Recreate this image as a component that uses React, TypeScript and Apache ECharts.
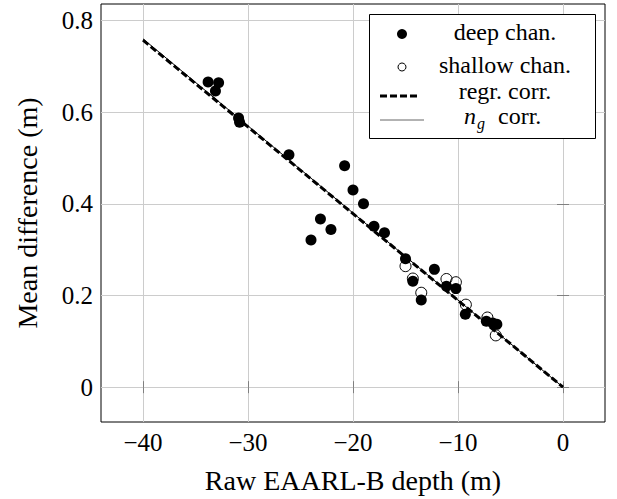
import React, { useEffect, useRef } from "react";
import * as echarts from "echarts";

// ---- data ----
const deepX = [-33.8, -32.8, -33.1, -30.9, -30.8, -26.1, -20.8, -20.0, -19.0, -18.0, -17.0, -23.1, -22.1, -24.0, -15.0, -12.25, -14.3, -13.5, -11.1, -10.2, -9.3, -7.3, -6.3, -6.7];
const deepY = [0.666, 0.664, 0.646, 0.587, 0.578, 0.507, 0.483, 0.430, 0.400, 0.351, 0.337, 0.367, 0.344, 0.321, 0.280, 0.257, 0.231, 0.190, 0.220, 0.215, 0.159, 0.144, 0.137, 0.140];
const shallowX = [-15.0, -14.3, -13.5, -11.1, -10.2, -9.25, -7.2, -6.4];
const shallowY = [0.264, 0.237, 0.206, 0.236, 0.229, 0.180, 0.152, 0.113];
const regrX = [-40, 0];
const regrY = [0.757, 0];
const ngX = [-40, 0];
const ngY = [0.760, 0];
const xTicks = [-40, -30, -20, -10, 0];
const yTicks = [0, 0.2, 0.4, 0.6, 0.8];
const legendLabels = ["deep chan.", "shallow chan.", "regr. corr.", "corr."];

const FONT = "Liberation Serif, serif";

const zip = (xs: number[], ys: number[]) => xs.map((x, i) => [x, ys[i]]);
const fmtX = (v: number) => (v < 0 ? "\u2212" + Math.abs(v) : String(v));
const fmtY = (v: number) => String(Math.round(v * 10) / 10);

export default function App() {
  const ref = useRef<HTMLDivElement>(null);
  useEffect(() => {
    if (!ref.current) return;
    const chart = echarts.init(ref.current, null, { renderer: "svg" });
    const tickStyle = { color: "#808080", width: 1 };
    const gridStyle = { color: "#cccccc", width: 1 };
    const txt = (text: string, x: number, y: number, extra: any = {}) => ({
      type: "text",
      x,
      y,
      z: 100,
      style: {
        text,
        fill: "#000",
        fontFamily: FONT,
        fontSize: 24,
        lineHeight: 22,
        align: "center",
        verticalAlign: "middle",
        ...extra,
      },
    });
    chart.setOption({
      animation: false,
      textStyle: { fontFamily: FONT },
      grid: {
        left: 101,
        top: 4,
        width: 504,
        height: 419,
        show: true,
        borderColor: "#000",
        borderWidth: 1,
        backgroundColor: "transparent",
      },
      xAxis: [
        {
          type: "value",
          min: -44,
          max: 4,
          position: "bottom",
          axisLine: { show: false },
          axisTick: { show: true, inside: true, length: 6, customValues: xTicks, lineStyle: tickStyle },
          axisLabel: { customValues: xTicks, formatter: fmtX, fontFamily: FONT, fontSize: 25, color: "#000", margin: 8 },
          splitLine: { show: true, lineStyle: gridStyle },
          name: "Raw EAARL-B depth (m)",
          nameLocation: "middle",
          nameGap: 44,
          nameTextStyle: { fontFamily: FONT, fontSize: 28, color: "#000" },
        },
        {
          type: "value",
          min: -44,
          max: 4,
          position: "top",
          axisLine: { show: false },
          axisTick: { show: true, inside: true, length: 6, customValues: xTicks, lineStyle: tickStyle },
          axisLabel: { show: false },
          splitLine: { show: false },
        },
      ],
      yAxis: [
        {
          type: "value",
          min: -0.076,
          max: 0.836,
          position: "left",
          axisLine: { show: false },
          axisTick: { show: true, inside: true, length: 6, customValues: yTicks, lineStyle: tickStyle },
          axisLabel: { customValues: yTicks, formatter: fmtY, fontFamily: FONT, fontSize: 25, color: "#000", margin: 8 },
          splitLine: { show: true, lineStyle: gridStyle },
          name: "Mean difference (m)",
          nameLocation: "middle",
          nameGap: 60,
          nameTextStyle: { fontFamily: FONT, fontSize: 28, color: "#000" },
        },
        {
          type: "value",
          min: -0.076,
          max: 0.836,
          position: "right",
          axisLine: { show: false },
          axisTick: { show: true, inside: true, length: 6, customValues: yTicks, lineStyle: tickStyle },
          axisLabel: { show: false },
          splitLine: { show: false },
        },
      ],
      series: [
        {
          name: "deep chan.",
          type: "scatter",
          data: zip(deepX, deepY),
          symbol: "circle",
          symbolSize: 11,
          itemStyle: { color: "#000", opacity: 1 },
          z: 3,
        },
        {
          name: "shallow chan.",
          type: "scatter",
          data: zip(shallowX, shallowY),
          symbol: "circle",
          symbolSize: 11,
          itemStyle: { color: "rgba(0,0,0,0)", borderColor: "#000", borderWidth: 1, opacity: 1 },
          z: 4,
        },
        {
          name: "regr. corr.",
          type: "line",
          data: zip(regrX, regrY),
          symbol: "none",
          lineStyle: { color: "#000", width: 3, type: [7, 3] },
          z: 5,
        },
        {
          name: "ng corr.",
          type: "line",
          data: zip(ngX, ngY),
          symbol: "none",
          lineStyle: { color: "#000", width: 1, type: "solid" },
          z: 6,
        },
      ],
      graphic: [
        {
          type: "rect",
          z: 90,
          shape: { x: 369.5, y: 14.5, width: 226, height: 124 },
          style: { fill: "#fff", stroke: "#000", lineWidth: 1 },
        },
        { type: "circle", z: 100, shape: { cx: 402, cy: 34, r: 5 }, style: { fill: "#000" } },
        { type: "circle", z: 100, shape: { cx: 402, cy: 67, r: 4 }, style: { fill: "#fff", stroke: "#000", lineWidth: 1 } },
        {
          type: "line",
          z: 100,
          shape: { x1: 380, y1: 96, x2: 420, y2: 96 },
          style: { stroke: "#000", lineWidth: 3, lineDash: [7, 3] },
        },
        {
          type: "line",
          z: 100,
          shape: { x1: 380, y1: 120, x2: 424, y2: 120 },
          style: { stroke: "#666", lineWidth: 1 },
        },
        txt(legendLabels[0], 505, 32),
        txt(legendLabels[1], 505, 65),
        txt(legendLabels[2], 505, 91),
        txt("n", 464, 116, { align: "left", fontStyle: "italic" }),
        txt("g", 477, 123, { align: "left", fontStyle: "italic", fontSize: 16, lineHeight: 15 }),
        txt(legendLabels[3], 498, 116, { align: "left" }),
      ],
    });
    return () => chart.dispose();
  }, []);
  return (
    <div
      ref={ref}
      style={{ position: "fixed", left: 0, top: 0, width: 617, height: 499, background: "#fff" }}
    />
  );
}
